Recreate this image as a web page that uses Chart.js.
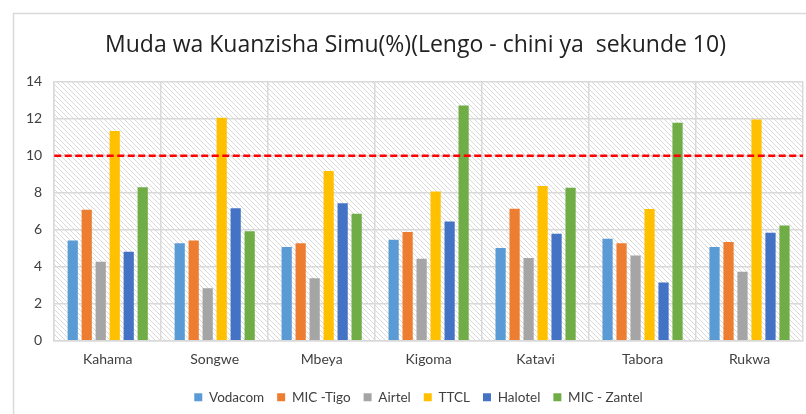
<!DOCTYPE html>
<html>
<head>
<meta charset="utf-8">
<script src="https://cdn.jsdelivr.net/npm/chart.js@4/dist/chart.umd.min.js"></script>
<style>
html,body{margin:0;padding:0;background:#fff;}
#wrap{width:806px;height:414px;position:relative;}
</style>
</head>
<body>
<div id="wrap"><canvas id="c" width="806" height="414"></canvas></div>
<script>
const categories = ["Kahama","Songwe","Mbeya","Kigoma","Katavi","Tabora","Rukwa"];
const vodacom = [5.42,5.26,5.06,5.46,5.01,5.51,5.06];
const micTigo = [7.07,5.42,5.26,5.87,7.13,5.26,5.33];
const airtel  = [4.27,2.84,3.37,4.43,4.47,4.61,3.73];
const ttcl    = [11.33,12.04,9.17,8.06,8.36,7.11,11.95];
const halotel = [4.81,7.16,7.43,6.44,5.78,3.14,5.83];
const micZantel = [8.29,5.91,6.86,12.71,8.27,11.78,6.23];
const targetValue = 10;
const yTicks = [0,2,4,6,8,10,12,14];
const titleText = "Muda wa Kuanzisha Simu(%)(Lengo - chini ya  sekunde 10)";

function makePattern(ctx){
  const p = document.createElement('canvas');
  p.width = 5; p.height = 5;
  const c = p.getContext('2d');
  c.fillStyle = '#ffffff'; c.fillRect(0,0,5,5);
  c.strokeStyle = '#d9d9d9'; c.lineWidth = 1;
  c.beginPath();
  c.moveTo(-1,-1); c.lineTo(6,6);
  c.moveTo(-4,1); c.lineTo(4,9);
  c.moveTo(1,-4); c.lineTo(9,4);
  c.stroke();
  return ctx.createPattern(p,'repeat');
}

const bgPlugin = {
  id:'bg',
  afterLayout(chart){
    if (chart.legend){ chart.legend.left += 10; chart.legend.right += 10; }
    if (chart.titleBlock){ chart.titleBlock.left += 7; chart.titleBlock.right += 7; }
  },
  beforeDraw(chart){
    const {ctx, chartArea:a} = chart;
    ctx.save();
    ctx.fillStyle = makePattern(ctx);
    ctx.fillRect(a.left, a.top, a.right-a.left, a.bottom-a.top);
    ctx.strokeStyle = '#d9d9d9'; ctx.lineWidth = 1.5;
    ctx.strokeRect(13.5, 13.5, 806, 420);
    ctx.restore();
  }
};
const targetPlugin = {
  id:'target',
  afterDatasetsDraw(chart){
    const {ctx, chartArea:a, scales} = chart;
    const y = scales.y.getPixelForValue(targetValue);
    ctx.save();
    ctx.strokeStyle = '#ff0000'; ctx.lineWidth = 2.5;
    ctx.setLineDash([7,3.5]);
    ctx.beginPath(); ctx.moveTo(a.left, y); ctx.lineTo(a.right, y); ctx.stroke();
    ctx.restore();
  }
};

const mk = (label, data, color) => ({label, data, backgroundColor: color, borderWidth:0, categoryPercentage:0.785, barPercentage:0.73});

new Chart(document.getElementById('c'), {
  type:'bar',
  data:{
    labels: categories,
    datasets:[
      mk("Vodacom", vodacom, '#5B9BD5'),
      mk("MIC -Tigo", micTigo, '#ED7D31'),
      mk("Airtel", airtel, '#A5A5A5'),
      mk("TTCL", ttcl, '#FFC000'),
      mk("Halotel", halotel, '#4472C4'),
      mk("MIC - Zantel", micZantel, '#70AD47')
    ]
  },
  options:{
    responsive:false,
    animation:false,
    layout:{padding:{left:14,right:3,top:32,bottom:0}},
    plugins:{
      title:{display:true, text:titleText, color:'#222', font:{family:"'Open Sans',sans-serif", size:23, weight:'normal'}, padding:{top:0,bottom:22}},
      legend:{position:'bottom', labels:{boxWidth:8, boxHeight:8, padding:13, color:'#404040', font:{family:"Lato, 'Open Sans', sans-serif", size:13.5}}},
      tooltip:{enabled:false}
    },
    scales:{
      x:{
        grid:{color:'#d9d9d9', lineWidth:1.5, offset:true, drawTicks:false},
        border:{color:'#d9d9d9', width:1.5},
        ticks:{color:'#404040', padding:10, font:{family:"Lato, 'Open Sans', sans-serif", size:14}}
      },
      y:{
        min:0, max:14,
        afterBuildTicks(axis){ axis.ticks = yTicks.map(v=>({value:v})); },
        grid:{color:'#d9d9d9', lineWidth:1.5, drawTicks:false},
        border:{color:'#d9d9d9', width:1.5},
        ticks:{color:'#404040', padding:12, font:{family:"Lato, 'Open Sans', sans-serif", size:14}}
      }
    }
  },
  plugins:[bgPlugin, targetPlugin]
});
</script>
</body>
</html>
